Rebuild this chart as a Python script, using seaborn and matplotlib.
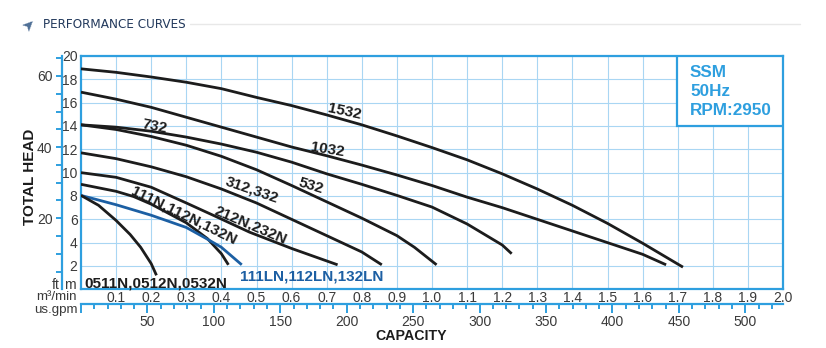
import numpy as np
import pandas as pd
import matplotlib
matplotlib.use("Agg")
import matplotlib.pyplot as plt
import matplotlib.font_manager as fm
from matplotlib.patches import Rectangle
from matplotlib.ticker import FixedLocator, NullFormatter
import seaborn as sns

# ---------------- data (capacity m3/min, head m) ----------------
q_1532 = [0, 0.1, 0.2, 0.3, 0.4, 0.5, 0.6, 0.7, 0.8, 0.9, 1.0, 1.1, 1.2, 1.3, 1.4, 1.5, 1.6, 1.715]
h_1532 = [18.9, 18.6, 18.2, 17.75, 17.2, 16.45, 15.75, 14.95, 14.1, 13.15, 12.15, 11.1, 9.9, 8.6, 7.2, 5.65, 3.95, 1.9]

q_1032 = [0, 0.1, 0.2, 0.3, 0.4, 0.5, 0.6, 0.7, 0.8, 0.9, 1.0, 1.1, 1.2, 1.3, 1.4, 1.5, 1.6, 1.667]
h_1032 = [16.9, 16.3, 15.6, 14.75, 13.9, 13.05, 12.2, 11.45, 10.65, 9.8, 8.9, 7.9, 7.0, 6.0, 5.0, 4.0, 3.0, 2.1]

q_732 = [0, 0.1, 0.2, 0.3, 0.4, 0.5, 0.6, 0.7, 0.8, 0.9, 1.0, 1.1, 1.2, 1.227]
h_732 = [14.1, 13.9, 13.55, 13.05, 12.45, 11.75, 10.9, 9.9, 9.0, 8.05, 7.05, 5.6, 3.8, 3.05]

q_532 = [0, 0.1, 0.2, 0.3, 0.4, 0.5, 0.6, 0.7, 0.8, 0.9, 0.95, 1.013]
h_532 = [14.1, 13.7, 13.1, 12.35, 11.4, 10.25, 8.9, 7.5, 6.1, 4.6, 3.6, 2.1]

q_312 = [0, 0.1, 0.2, 0.3, 0.4, 0.5, 0.6, 0.7, 0.8, 0.857]
h_312 = [11.7, 11.2, 10.5, 9.65, 8.6, 7.4, 6.0, 4.6, 3.2, 2.1]

q_212 = [0, 0.1, 0.2, 0.3, 0.38, 0.48, 0.6, 0.731]
h_212 = [10.0, 9.6, 8.75, 7.4, 6.3, 4.9, 3.5, 2.1]

q_111n = [0, 0.1, 0.15, 0.2, 0.3, 0.36, 0.4, 0.42]
h_111n = [9.0, 8.4, 7.95, 7.3, 5.7, 4.35, 3.05, 2.1]

q_111ln = [0, 0.1, 0.2, 0.3, 0.36, 0.4, 0.458]
h_111ln = [8.05, 7.25, 6.35, 5.3, 4.3, 3.6, 2.1]

q_0511n = [0, 0.05, 0.1, 0.14, 0.17, 0.2, 0.215]
h_0511n = [8.05, 7.2, 5.9, 4.7, 3.6, 2.2, 1.2]

curve_names = ["1532", "1032", "732", "532", "312,332", "212N,232N",
               "111N,112N,132N", "111LN,112LN,132LN", "0511N,0512N,0532N"]
curve_q = [q_1532, q_1032, q_732, q_532, q_312, q_212, q_111n, q_111ln, q_0511n]
curve_h = [h_1532, h_1032, h_732, h_532, h_312, h_212, h_111n, h_111ln, h_0511n]

# label anchor points (q, h) and rotation
label_q = [0.750, 0.703, 0.210, 0.655, 0.486, 0.484, 0.293, 0.452, 0.011]
label_h = [15.25, 11.97, 13.94, 8.89, 8.51, 5.46, 6.31, 1.10, 0.50]
label_rot = [-12, -9, -11, -17, -19, -23, -26, 0, 0]

m_ticks = [2, 4, 6, 8, 10, 12, 14, 16, 18, 20]
ft_labels = [20, 40, 60]
q_ticks = [0.1, 0.2, 0.3, 0.4, 0.5, 0.6, 0.7, 0.8, 0.9, 1.0,
           1.1, 1.2, 1.3, 1.4, 1.5, 1.6, 1.7, 1.8, 1.9, 2.0]
gpm_labels = [50, 100, 150, 200, 250, 300, 350, 400, 450, 500]
info_lines = ["SSM", "50Hz", "RPM:2950"]

# ---------------- style ----------------
sns.set_theme(style="white")
plt.rcParams["font.family"] = ["Liberation Sans", "DejaVu Sans"]

BLUE = "#2e9fdf"
GRID = "#a9d6f3"
DARK = "#1c1c1c"
CURVE_BLUE = "#1c5fa3"
TXT = "#3a3a3a"
PX = 0.72  # points per pixel at 100 dpi

W, H = 826, 348
fig = plt.figure(figsize=(W / 100, H / 100), dpi=100)
fig.patch.set_facecolor("white")

L, R, T, B = 81, 783, 56, 289.3
ax = fig.add_axes([L / W, 1 - B / H, (R - L) / W, (B - T) / H])
ax.set_xlim(0, 2.0)
ax.set_ylim(0, 20)
ax.set_facecolor("white")

records = []
for name, qs, hs in zip(curve_names, curve_q, curve_h):
    for q, h in zip(qs, hs):
        records.append({"curve": name, "q": q, "h": h})
df = pd.DataFrame(records)

palette = {n: DARK for n in curve_names}
palette["111LN,112LN,132LN"] = CURVE_BLUE
sns.lineplot(data=df, x="q", y="h", hue="curve", units="curve", estimator=None,
             sort=False, palette=palette, linewidth=2.0, legend=False, ax=ax,
             zorder=3)
for ln in ax.lines:
    ln.set_solid_capstyle("butt")
    ln.set_solid_joinstyle("round")

# grid
ax.set_xticks(q_ticks)
ax.set_xticklabels([f"{v:.1f}" for v in q_ticks])
ax.set_yticks(m_ticks)
ax.set_yticklabels([str(v) for v in m_ticks])
ax.grid(True, color=GRID, linewidth=0.8)
ax.set_axisbelow(True)
ax.tick_params(axis="both", length=0, labelsize=10, labelcolor=TXT)
ax.tick_params(axis="x", pad=1.5)
ax.tick_params(axis="y", pad=2.5)
ax.set_xlabel("")
ax.set_ylabel("")
for sp in ax.spines.values():
    sp.set_color(BLUE)
    sp.set_linewidth(1.6)

# curve labels
for name, lq, lh, rot in zip(curve_names, label_q, label_h, label_rot):
    col = CURVE_BLUE if name.startswith("111LN") else DARK
    ha = "left" if rot == 0 else "center"
    ax.text(lq, lh, name, rotation=rot, rotation_mode="anchor", ha=ha,
            va="center", fontsize=11, fontweight="bold", color=col, zorder=5)

# info box
box = Rectangle((0.849, 0.70), 0.151, 0.30, transform=ax.transAxes,
                facecolor="white", edgecolor=BLUE, linewidth=1.6, zorder=4)
ax.add_patch(box)
for i, line in enumerate(info_lines):
    ax.text(0.8675, 0.931 - i * 0.083, line, transform=ax.transAxes,
            ha="left", va="center", fontsize=12.3, fontweight="bold",
            color=BLUE, zorder=5)

# secondary axis: us.gpm
M3_TO_GPM = 264.172
sec = ax.secondary_xaxis(-(304.3 - B) / (B - T),
                         functions=(lambda x: x * M3_TO_GPM,
                                    lambda g: g / M3_TO_GPM))
sec.xaxis.set_major_locator(FixedLocator([0] + gpm_labels))
sec.set_xticklabels([""] + [str(v) for v in gpm_labels])
sec.xaxis.set_minor_locator(FixedLocator(list(range(10, 530, 10))))
sec.xaxis.set_minor_formatter(NullFormatter())
sec.tick_params(axis="x", which="major", length=9 * PX, width=1.4, color=BLUE,
                labelsize=10, labelcolor=TXT, pad=1.5)
sec.tick_params(axis="x", which="minor", length=5 * PX, width=1.4, color=BLUE)
for sp in sec.spines.values():
    sp.set_color(BLUE)
    sp.set_linewidth(1.6)

# secondary axis: ft
M_TO_FT = 3.28084
secy = ax.secondary_yaxis(-(L - 61.7) / (R - L),
                          functions=(lambda m: m * M_TO_FT,
                                     lambda f: f / M_TO_FT))
secy.yaxis.set_major_locator(FixedLocator(ft_labels))
secy.set_yticklabels([str(v) for v in ft_labels])
secy.yaxis.set_minor_locator(FixedLocator(list(range(5, 66, 5))))
secy.yaxis.set_minor_formatter(NullFormatter())
secy.tick_params(axis="y", which="both", length=6.5 * PX, width=1.4,
                 color=BLUE, labelsize=10, labelcolor=TXT, pad=2)
for sp in secy.spines.values():
    sp.set_color(BLUE)
    sp.set_linewidth(1.6)

# axis titles and unit labels
fig.text(30 / W, 1 - 176.5 / H, "TOTAL HEAD", rotation=90, ha="center",
         va="center", fontsize=11, fontweight="bold", color=DARK)
fig.text(411 / W, 1 - 335.5 / H, "CAPACITY", ha="center", va="center",
         fontsize=10.2, fontweight="bold", color=DARK)
fig.text(56 / W, 1 - 285 / H, "ft", ha="center", va="center", fontsize=10,
         color=TXT)
fig.text(70 / W, 1 - 285 / H, "m", ha="center", va="center", fontsize=10,
         color=TXT)
fig.text(77 / W, 1 - 297 / H, "m³/min", ha="right", va="center",
         fontsize=9.6, color=TXT)
fig.text(78 / W, 1 - 309.5 / H, "us.gpm", ha="right", va="center",
         fontsize=9.6, color=TXT)

# page title
names = {f.name for f in fm.fontManager.ttflist}
if "Liberation Sans Narrow" in names:
    tfont = dict(family="Liberation Sans Narrow", fontsize=10.5)
else:
    tfont = dict(family="DejaVu Sans", fontstretch="condensed", fontsize=9.6)
fig.text(43 / W, 1 - 25 / H, "PERFORMANCE CURVES", ha="left", va="center",
         color="#22395c", **tfont)
fig.text(29 / W, 1 - 24.5 / H, "➤", rotation=45, ha="center", va="center",
         fontsize=11, color="#4f6f96", family="DejaVu Sans")
fig.add_artist(plt.Line2D([190 / W, 800 / W], [1 - 24 / H, 1 - 24 / H],
                          color="#e8e8e8", linewidth=1.0))

fig.savefig("out.png", dpi=100, facecolor="white")
